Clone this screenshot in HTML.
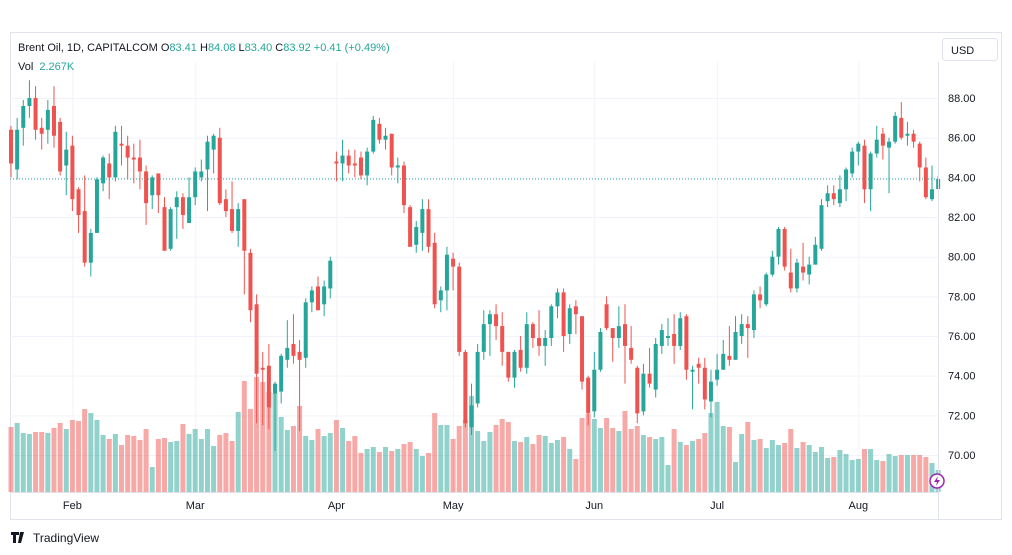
<!DOCTYPE html>
<html><head><meta charset="utf-8"><style>
html,body{margin:0;padding:0;background:#fff;}
svg{display:block;font-family:"Liberation Sans",sans-serif;}
</style></head><body>
<svg id="chart" width="1012" height="555" viewBox="0 0 1012 555" xmlns="http://www.w3.org/2000/svg">
<rect x="0" y="0" width="1012" height="555" fill="#fff"/>
<rect x="10.5" y="32.5" width="991" height="487" fill="none" stroke="#e0e3eb"/>
<g id="grid"></g>
<g id="vol"></g>
<g id="candles"></g>
<line x1="938.5" y1="62" x2="938.5" y2="520" stroke="#e0e3eb"/>
<line x1="10" y1="492.5" x2="938" y2="492.5" stroke="#e0e3eb"/>
<g id="yticks"></g>
<g id="xticks"></g>
<rect x="942.5" y="38.5" width="55" height="22" rx="3" fill="#fff" stroke="#e0e3eb"/>
<text x="951" y="54" font-size="11" fill="#131722">USD</text>
<text x="18" y="51" font-size="11" fill="#131722">Brent Oil, 1D, CAPITALCOM <tspan>O</tspan><tspan fill="#26a69a">83.41</tspan> <tspan>H</tspan><tspan fill="#26a69a">84.08</tspan> <tspan>L</tspan><tspan fill="#26a69a">83.40</tspan> <tspan>C</tspan><tspan fill="#26a69a">83.92</tspan> <tspan fill="#26a69a">+0.41 (+0.49%)</tspan></text>
<text x="18" y="70" font-size="11" fill="#131722">Vol <tspan fill="#26a69a" dx="3">2.267K</tspan></text>
<g>
<circle cx="937" cy="481" r="7" fill="#fff" stroke="#9c27b0" stroke-width="1.5"/>
<path d="M938 476 L934 482 L937 482 L936 486 L940 480 L937 480 Z" fill="#9c27b0"/>
</g>
<g>
<path d="M11 532 h8 v3 h-3 v8 h-3 v-8 h-2 z M20 532 h4 l-3 11 h-3 z" fill="#131722"/>
<text x="33" y="542" font-size="12" fill="#131722">TradingView</text>
</g>
</svg>
<script>
const opens=[86.4,84.4,86.5,87.6,88.0,86.5,86.4,87.6,86.8,84.6,85.6,83.4,82.3,79.7,81.2,83.7,84.7,84.0,85.7,85.6,85.0,85.0,84.3,83.1,84.2,82.5,80.4,82.5,83.0,81.7,83.0,84.0,84.4,85.4,86.0,82.9,82.4,81.3,82.9,80.2,77.6,74.4,74.5,73.1,73.2,74.8,75.6,75.2,74.9,77.7,78.5,77.6,78.4,84.8,84.7,85.1,84.7,85.0,84.1,85.3,86.7,85.9,86.2,84.5,84.6,82.5,80.6,81.2,82.4,80.7,77.8,78.3,79.9,79.5,75.2,71.4,72.6,75.2,76.6,77.1,76.5,75.2,73.9,75.3,74.4,76.6,75.9,75.5,75.9,77.5,78.2,76.1,77.5,77.0,73.9,72.2,74.3,77.6,76.4,75.9,76.6,75.4,74.4,72.2,74.1,73.3,75.5,75.9,76.1,75.5,77.0,74.2,74.6,74.4,72.7,73.8,74.3,75.0,74.8,76.0,76.6,76.3,78.1,77.6,79.1,80.0,81.4,79.2,78.4,79.5,79.1,79.6,80.4,82.8,83.2,82.7,83.4,84.2,85.3,85.6,83.4,85.2,86.2,85.5,85.8,87.0,86.1,86.2,85.7,84.5,82.9,83.41];
const highs=[86.6,87.0,87.9,88.9,88.6,87.0,87.9,88.6,87.0,86.3,86.1,83.5,84.1,81.4,84.0,85.1,85.2,86.6,86.6,86.1,85.7,85.9,84.6,84.1,84.2,83.0,82.5,83.3,83.2,84.0,84.5,84.9,86.1,86.2,86.5,83.4,83.8,82.7,82.9,80.4,78.1,75.2,75.6,73.7,75.1,76.8,77.1,75.8,77.9,78.5,79.0,78.8,80.0,85.3,85.9,85.4,85.4,85.3,85.5,87.1,87.0,86.5,86.2,85.0,84.8,82.6,81.8,82.9,82.9,81.2,78.5,80.5,80.2,79.7,75.3,73.6,75.6,77.3,77.3,77.6,77.2,75.2,75.3,76.0,77.2,76.7,77.3,76.3,77.6,78.4,78.4,77.6,77.8,77.0,74.0,75.2,76.4,78.0,76.4,77.5,77.6,76.5,74.5,74.6,75.4,75.9,76.6,76.9,77.1,77.2,77.1,74.5,74.9,74.9,74.3,75.1,75.8,76.5,77.0,77.1,77.0,78.3,78.5,79.2,80.3,81.5,81.5,80.4,79.9,80.7,80.0,81.0,82.9,83.6,83.6,84.1,84.5,85.5,85.8,85.9,85.3,86.6,86.5,86.0,87.3,87.8,86.8,86.4,85.8,85.0,84.6,84.08];
const lows=[84.0,83.9,85.6,87.0,85.9,85.4,85.7,85.5,84.1,83.1,82.3,81.2,79.5,79.0,81.2,83.3,82.9,83.8,84.6,83.9,83.7,83.4,81.6,82.4,82.2,80.3,80.3,80.9,81.4,81.7,82.6,83.8,82.3,84.2,82.6,82.0,81.2,80.5,78.1,76.7,71.6,71.5,71.3,70.2,72.6,74.4,74.6,71.2,74.4,77.2,77.3,77.0,77.9,83.8,83.8,84.2,84.0,83.9,83.6,85.2,85.7,85.4,84.1,83.7,82.2,80.5,80.2,80.3,80.2,77.4,77.2,77.3,78.3,75.0,71.4,71.0,72.4,74.8,75.0,75.8,74.5,73.7,73.4,74.2,74.1,75.4,75.0,74.5,75.5,76.9,75.2,75.6,76.1,73.3,71.5,71.9,74.2,76.3,74.7,75.4,73.6,74.6,71.6,72.0,73.4,72.9,75.1,75.5,74.6,75.3,73.8,72.3,73.6,72.3,71.9,73.5,74.3,74.5,74.8,75.6,74.9,75.9,77.4,77.5,79.0,79.6,79.3,78.2,78.2,78.8,78.6,79.6,80.3,82.5,82.6,82.5,82.8,84.0,84.6,82.7,82.3,85.0,84.9,83.2,85.7,85.9,85.6,85.5,83.8,82.9,82.8,83.40];
const closes=[84.7,86.4,87.6,88.0,86.4,86.2,87.4,86.1,84.3,85.4,82.9,82.1,79.7,81.2,83.9,85.0,84.0,86.3,85.6,85.0,84.9,84.3,82.7,84.0,83.1,80.3,82.4,83.0,82.1,83.0,84.3,84.3,85.8,86.1,82.7,82.3,81.3,82.4,80.3,77.3,74.1,74.3,72.4,73.6,75.0,75.4,75.0,74.8,77.7,78.3,77.3,78.5,79.8,84.7,85.1,84.6,84.6,84.1,85.3,86.9,85.9,86.1,84.5,84.6,82.6,80.5,81.5,82.4,80.5,77.6,78.3,80.1,79.5,75.2,71.6,72.5,75.2,76.6,77.1,76.5,75.2,73.9,75.2,74.4,76.6,75.9,75.5,75.9,77.5,78.2,76.0,77.4,77.1,73.7,72.1,74.3,76.2,76.4,75.9,76.5,75.5,74.8,72.1,74.1,73.6,75.6,76.3,76.0,75.5,76.9,74.3,74.3,74.4,72.8,73.7,74.3,75.1,74.8,76.2,76.6,76.4,78.1,77.8,79.1,80.0,81.4,79.5,78.4,79.7,79.2,79.6,80.6,82.6,83.2,82.9,83.4,84.4,85.3,85.7,83.4,85.2,85.9,85.6,85.8,87.1,86.0,86.2,85.8,84.5,83.0,83.4,83.92];
const volumes=[65,69,59,58,60,60,59,64,69,63,72,71,83,79,72,57,53,58,47,57,56,52,63,25,53,54,50,51,68,58,63,53,63,46,57,59,51,80,111,83,115,110,100,99,75,62,66,86,56,52,63,56,59,72,64,51,56,39,43,45,40,45,41,43,48,50,43,36,39,79,67,67,53,66,72,96,61,51,60,67,73,70,51,50,55,48,57,56,49,52,55,43,33,74,78,73,64,74,64,61,81,63,66,57,55,53,55,27,63,50,47,51,53,59,79,90,66,65,30,58,70,52,53,44,52,47,49,63,44,50,47,40,45,34,35,42,38,32,33,43,43,32,31,38,36,37,37,37,37,35,29,22];
const priceTicks=[70,72,74,76,78,80,82,84,86,88];
const monthLabels=["Feb","Mar","Apr","May","Jun","Jul","Aug"];
const monthIndex=[10,30,53,72,95,115,138];
const lastPrice=83.92;

const NS="http://www.w3.org/2000/svg";
const X0=11, DX=6.14;
function xAt(i){return X0+i*DX;}
function yP(p){return 455-(p-70)*19.83;}
function yV(v){return 492-v*1.0;}
function mk(tag,attrs,parent){const e=document.createElementNS(NS,tag);for(const k in attrs)e.setAttribute(k,attrs[k]);parent.appendChild(e);return e;}
const TEAL="#26a69a", RED="#ef5350";
const grid=document.getElementById('grid');
priceTicks.forEach(p=>{
  const l=mk('line',{x1:10,x2:938,y1:yP(p)+0.5,y2:yP(p)+0.5,stroke:'#f0f3fa'},grid);
  
  
  const t=mk('text',{x:948,y:yP(p)+4,'font-size':11,fill:'#131722'},document.getElementById('yticks'));
  t.textContent=p.toFixed(2);
  
  
});
monthLabels.forEach((m,k)=>{
  const x=xAt(monthIndex[k]);
  const l=mk('line',{x1:x+0.5,x2:x+0.5,y1:62,y2:492,stroke:'#f0f3fa'},grid);
  
  
  const t=mk('text',{x:x,y:509,'font-size':11,fill:'#131722','text-anchor':'middle'},document.getElementById('xticks'));
  t.textContent=m;
  
  
});
const pl=mk('line',{x1:10,x2:938,y1:yP(lastPrice),y2:yP(lastPrice),stroke:TEAL,'stroke-dasharray':'1 2'},grid);


const vg=document.getElementById('vol'), cg=document.getElementById('candles');
for(let i=0;i<opens.length;i++){
  const up=closes[i]>=opens[i];
  const x=xAt(i);
  const vb=mk('rect',{x:x-2.5,y:yV(volumes[i]),width:5,height:492-yV(volumes[i]),fill:up?'rgba(38,166,154,0.5)':'rgba(239,83,80,0.5)'},vg);
  
  
  const c=up?TEAL:RED;
  const w=mk('line',{x1:x,x2:x,y1:yP(highs[i]),y2:yP(lows[i]),stroke:c,'stroke-width':1},cg);
  
  
  const top=yP(Math.max(opens[i],closes[i])), bot=yP(Math.min(opens[i],closes[i]));
  const b=mk('rect',{x:x-2,y:top,width:4,height:Math.max(1,bot-top),fill:c},cg);
  
  
}
</script>
</body></html>
